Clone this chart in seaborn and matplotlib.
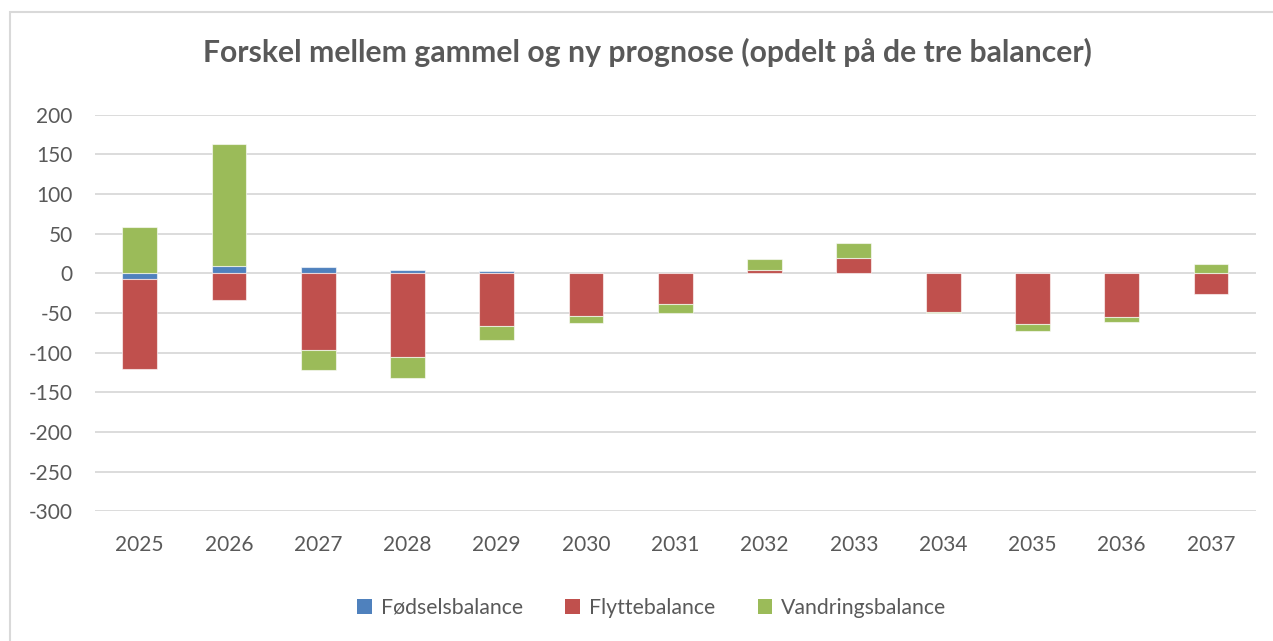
import numpy as np
import pandas as pd
import matplotlib
matplotlib.use("Agg")
import matplotlib.pyplot as plt
from matplotlib.patches import Rectangle, Patch
import seaborn as sns

# Difference between the old and the new forecast, split by balance
years = ["2025", "2026", "2027", "2028", "2029", "2030", "2031",
         "2032", "2033", "2034", "2035", "2036", "2037"]
foedselsbalance = [-7.5, 9.5, 8, 4, 2.5, 0, 0, 0, 0, 0, 0, 0, 0]
flyttebalance = [-113.5, -34, -97, -105, -67, -54, -39, 4, 19, -48.5, -63.5, -55.5, -26]
vandringsbalance = [58, 153, -25.5, -27, -17, -9, -11, 13.5, 19.5, -1.5, -9, -6, 11.5]

series_names = ["Fødselsbalance", "Flyttebalance", "Vandringsbalance"]
series_values = [foedselsbalance, flyttebalance, vandringsbalance]
series_colors = ["#4F81BD", "#C0504D", "#9BBB59"]

sns.set_theme(style="white")
plt.rcParams["font.family"] = ["Lato", "DejaVu Sans"]
plt.rcParams["axes.unicode_minus"] = False

text_grey = "#595959"
grid_grey = "#D9D9D9"

fig = plt.figure(figsize=(12.73, 6.41), dpi=100)
ax = fig.add_axes([95 / 1273, 1 - 511.3 / 641, (1255.6 - 95) / 1273, (511.3 - 114.6) / 641])

# Stack positives upward and negatives downward, in series order
pos_base = np.zeros(len(years))
neg_base = np.zeros(len(years))
for name, vals, col in zip(series_names, series_values, series_colors):
    vals = np.asarray(vals, dtype=float)
    bottoms = np.where(vals >= 0, pos_base, neg_base)
    df = pd.DataFrame({"year": years, "value": vals})
    sns.barplot(data=df, x="year", y="value", order=years, color=col,
                width=0.39, bottom=bottoms, saturation=1, ax=ax,
                edgecolor=(1, 1, 1, 0.6), linewidth=0.8, zorder=3)
    pos_base = pos_base + np.where(vals >= 0, vals, 0)
    neg_base = neg_base + np.where(vals < 0, vals, 0)

ax.set_xlim(-0.5, len(years) - 0.5)
ax.set_ylim(-300, 200)
ax.set_yticks(np.arange(-300, 201, 50))
ax.set_xlabel("")
ax.set_ylabel("")
ax.grid(axis="y", color=grid_grey, linewidth=1.3, zorder=0)
ax.set_axisbelow(True)
for s in ax.spines.values():
    s.set_visible(False)
ax.tick_params(axis="both", length=0, labelsize=15, labelcolor=text_grey)
ax.tick_params(axis="x", pad=17)
ax.tick_params(axis="y", pad=16)

fig.text(0.5087, 1 - 52 / 641, "Forskel mellem gammel og ny prognose (opdelt på de tre balancer)",
         ha="center", va="center", fontsize=21.7, fontweight="bold", color=text_grey)

handles = [Patch(facecolor=c, edgecolor="none", label=n)
           for n, c in zip(series_names, series_colors)]
leg = fig.legend(handles=handles, loc="center", bbox_to_anchor=(0.512, 1 - 608 / 641),
                 ncol=3, frameon=False, fontsize=15.3, handlelength=0.7, handleheight=0.7,
                 handletextpad=0.4, columnspacing=2.0)
for t in leg.get_texts():
    t.set_color(text_grey)

# Chart-area border
fig.patches.append(Rectangle((10 / 1273, -0.05), 1.1, 1 - 12 / 641 + 0.05,
                             transform=fig.transFigure, fill=False,
                             edgecolor=grid_grey, linewidth=1.5))

fig.savefig("out.png", dpi=100, facecolor="white")
